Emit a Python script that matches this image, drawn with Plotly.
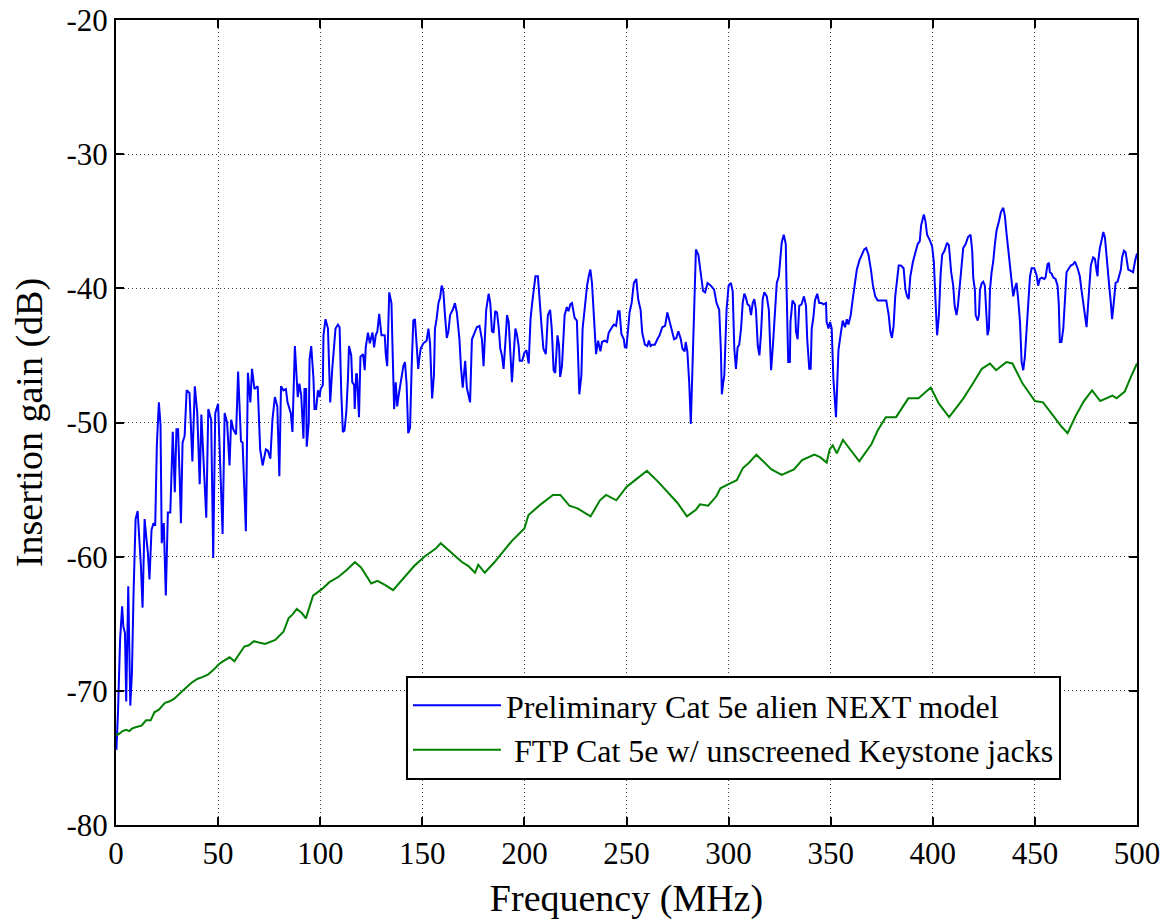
import plotly.graph_objects as go

# Blue: preliminary Cat 5e alien NEXT model
freq_model = [
    0.2, 1.0, 2.0, 3.0, 3.6, 4.4, 5.0, 6.0, 7.0, 7.8, 8.6, 9.6, 10.6, 11.4, 12.2, 13.0,
    14.0, 14.8, 15.6, 16.4, 17.4, 18.4, 19.2, 20.0, 21.0, 21.8, 22.4, 23.4, 24.4, 25.4,
    26.6, 27.8, 28.8, 29.6, 30.4, 31.2, 31.8, 32.6, 33.6, 34.6, 36.0, 37.4, 38.6, 39.8,
    41.0, 41.8, 43.4, 44.2, 45.2, 46.6, 47.6, 48.6, 50.0, 50.8, 52.2, 53.2, 54.4, 55.6,
    56.4, 57.4, 58.8, 59.8, 61.2, 62.0, 62.8, 63.6, 64.6, 65.8, 66.6, 67.8, 69.4, 70.6,
    71.8, 72.6, 73.4, 74.4, 75.6, 76.6, 77.8, 79.0, 80.0, 80.8, 82.0, 83.2, 84.0, 85.6,
    86.4, 87.6, 89.0, 89.8, 90.7, 91.8, 92.3, 93.1, 93.4, 94.4, 94.8, 95.6, 96.7, 97.2,
    98.0, 98.9, 99.7, 100.2, 101.3, 101.6, 102.6, 103.8, 104.9, 105.9, 106.6, 107.5,
    108.7, 109.5, 110.3, 111.1, 111.9, 112.8, 113.6, 114.1, 115.2, 115.7, 116.6, 116.9,
    117.6, 118.0, 119.0, 119.7, 121.0, 121.8, 122.3, 123.4, 124.3, 125.6, 126.4, 127.2,
    128.0, 128.9, 130.0, 131.6, 132.1, 132.8, 133.8, 134.9, 135.4, 136.2, 137.0, 137.7,
    138.4, 139.3, 140.7, 141.5, 142.3, 143.1, 144.0, 144.8, 145.6, 146.4, 147.2, 148.0,
    148.5, 149.2, 150.5, 152.1, 153.0, 153.8, 154.8, 155.7, 156.2, 157.0, 157.9, 158.7,
    159.5, 160.3, 161.1, 162.0, 162.8, 163.6, 164.9, 166.0, 166.9, 168.2, 168.9, 169.8,
    171.0, 171.8, 173.4, 174.3, 175.1, 176.7, 178.0, 179.2, 180.0, 180.8, 181.3, 182.5,
    183.3, 184.1, 184.9, 185.7, 186.6, 187.4, 188.2, 189.0, 189.8, 190.7, 191.5, 192.3,
    193.1, 193.9, 194.8, 195.6, 196.4, 197.2, 197.7, 198.9, 200.0, 201.0, 202.1, 203.0,
    203.8, 204.6, 205.4, 206.6, 207.4, 208.5, 209.3, 210.5, 211.5, 212.6, 213.4, 214.3,
    215.1, 216.2, 217.0, 217.5, 218.4, 219.7, 220.8, 221.6, 222.5, 223.3, 224.6, 225.7,
    226.9, 227.9, 228.5, 229.5, 230.7, 231.5, 232.3, 233.1, 233.9, 235.1, 236.1, 237.2,
    238.0, 239.3, 240.5, 241.3, 242.9, 243.8, 244.9, 245.9, 246.6, 247.5, 248.7, 249.2,
    250.0, 250.8, 251.5, 252.5, 253.6, 254.8, 255.7, 256.9, 257.7, 259.0, 260.2, 261.0,
    261.8, 262.6, 263.9, 265.1, 266.2, 267.5, 268.9, 270.0, 271.1, 272.5, 273.3, 274.4,
    275.4, 276.6, 277.4, 278.5, 279.0, 279.8, 280.7, 281.5, 282.3, 283.1, 284.0, 285.2,
    286.4, 287.5, 288.5, 289.7, 291.3, 292.9, 294.1, 295.4, 296.2, 296.7, 297.4, 297.9,
    299.0, 300.0, 301.1, 302.0, 302.8, 303.6, 304.4, 305.2, 306.1, 306.9, 307.7, 308.5,
    309.3, 310.2, 311.0, 311.8, 312.6, 313.4, 314.3, 315.1, 315.9, 316.7, 317.5, 318.7,
    319.7, 320.8, 321.6, 322.5, 323.6, 324.6, 326.0, 327.0, 328.0, 328.4, 329.2, 330.0,
    330.3, 331.3, 332.5, 333.0, 333.8, 334.6, 335.7, 336.9, 337.9, 338.5, 339.5, 340.2,
    340.7, 341.5, 342.3, 343.4, 344.4, 345.6, 346.4, 347.7, 348.0, 348.9, 349.7, 350.5,
    351.3, 352.6, 353.8, 354.9, 355.9, 357.0, 357.9, 358.7, 359.8, 360.8, 362.0, 362.8,
    364.1, 365.2, 366.4, 367.4, 368.5, 369.7, 370.7, 371.8, 373.0, 374.3, 375.9, 377.2,
    378.4, 379.2, 380.0, 380.8, 381.6, 382.5, 383.3, 384.4, 385.7, 386.6, 387.4, 388.2,
    389.0, 390.3, 391.5, 392.6, 393.6, 394.3, 395.6, 396.4, 397.2, 398.5, 399.7, 400.5,
    401.3, 402.1, 403.0, 403.8, 404.6, 405.7, 407.0, 407.9, 409.0, 410.0, 410.7, 411.6,
    412.3, 413.3, 414.1, 414.9, 416.1, 417.2, 418.5, 419.3, 419.8, 420.6, 421.0, 422.0,
    422.6, 423.1, 424.0, 424.7, 425.5, 426.3, 426.8, 427.5, 428.0, 428.8, 429.6, 430.4,
    431.2, 432.4, 433.4, 434.5, 435.3, 436.1, 436.9, 437.7, 438.6, 439.4, 440.2, 441.0,
    441.8, 442.7, 443.5, 444.3, 445.1, 445.9, 446.7, 447.6, 448.4, 449.7, 450.8, 451.6,
    452.4, 453.3, 454.6, 455.2, 456.2, 456.9, 457.3, 458.2, 459.0, 460.1, 461.1, 461.7,
    462.2, 463.0, 463.9, 464.7, 465.5, 466.3, 467.6, 468.8, 469.6, 470.9, 472.0, 472.8,
    473.7, 474.5, 475.3, 476.1, 476.9, 477.4, 478.5, 479.4, 480.2, 480.7, 481.0, 481.8,
    482.7, 483.5, 484.3, 484.7, 485.6, 486.2, 487.2, 487.8, 488.8, 489.5, 490.5, 491.1,
    492.1, 492.7, 493.6, 494.4, 495.0, 495.7, 497.0, 498.1, 499.0, 500.0,
]
gain_model = [
    -74.4, -71.5, -66.2, -63.7, -65.2, -65.7, -70.8, -62.2, -71.1, -68.7, -62.7, -57.2, -56.6, -58.7, -60.7, -63.8,
    -57.2, -58.5, -59.7, -61.7, -58.0, -57.5, -57.7, -51.7, -48.5, -50.2, -59.0, -57.5, -62.9, -56.7,
    -56.7, -50.7, -55.2, -50.5, -50.5, -54.2, -57.5, -51.5, -51.0, -47.6, -47.8, -52.9, -47.3, -49.3,
    -54.6, -49.4, -54.5, -57.1, -49.0, -49.8, -60.1, -49.3, -48.6, -52.5, -58.3, -49.3, -50.0, -53.2,
    -49.8, -50.5, -50.9, -46.2, -51.4, -51.5, -55.5, -58.1, -46.3, -48.5, -46.0, -47.5, -47.3, -52.0,
    -53.2, -52.7, -52.0, -52.1, -52.7, -49.8, -48.1, -48.8, -54.0, -47.3, -47.6, -47.5, -48.5, -49.3,
    -50.7, -44.3, -48.1, -47.1, -48.0, -51.2, -47.5, -47.5, -51.8, -50.0, -45.3, -44.3, -46.7, -49.0,
    -49.0, -47.6, -48.1, -47.5, -47.2, -43.5, -42.3, -43.0, -48.5, -46.0, -44.5, -43.0,
    -42.7, -42.9, -47.7, -50.7, -50.6, -49.2, -46.7, -44.3, -45.0, -47.0, -47.2, -49.0,
    -46.4, -46.4, -49.6, -45.1, -44.9, -46.1, -44.4, -43.3, -44.1, -43.3, -44.4, -43.5,
    -43.2, -41.9, -43.5, -43.5, -44.9, -45.8, -40.3, -41.1, -44.3, -49.0, -47.0, -48.8,
    -48.0, -47.0, -45.8, -45.5, -47.1, -50.8, -50.4, -45.8, -42.4, -42.3, -43.9, -46.0,
    -45.3, -44.5, -44.1, -43.9, -43.0, -44.1, -48.2, -46.5, -43.0, -42.3, -41.1, -40.7,
    -39.8, -40.2, -42.0, -43.7, -43.2, -42.0, -41.6, -41.1, -41.8, -43.8, -45.8, -47.4,
    -45.4, -47.4, -48.5, -43.8, -43.5, -42.9, -42.8, -43.8, -45.8, -43.0, -41.6, -40.4,
    -41.1, -43.2, -43.3, -41.7, -41.8, -42.9, -44.5, -45.0, -46.0, -44.0, -42.0, -42.5,
    -45.3, -47.0, -44.8, -43.0, -43.5, -44.3, -45.4, -45.4, -44.8, -44.6, -45.6, -42.3,
    -41.1, -40.1, -39.1, -39.1, -41.0, -43.0, -44.5, -44.9, -42.0, -41.6, -43.0, -46.1,
    -46.3, -43.5, -44.3, -46.6, -45.8, -42.0, -41.4, -41.7, -41.2, -41.1, -42.2, -42.4,
    -47.9, -46.5, -43.0, -41.3, -39.8, -39.1, -38.6, -39.6, -42.0, -44.9, -43.9, -44.7,
    -44.0, -43.9, -44.0, -43.3, -42.9, -42.7, -42.8, -41.7, -41.7, -43.4, -43.8, -44.4,
    -44.4, -42.8, -41.8, -41.1, -39.6, -39.3, -40.8, -41.6, -43.3, -44.2, -44.3, -43.9,
    -44.3, -44.2, -44.2, -43.8, -43.5, -42.9, -42.8, -41.8, -42.4, -43.3, -43.8, -43.7,
    -43.2, -43.8, -44.5, -44.7, -44.0, -44.7, -47.0, -50.1, -45.8, -40.8, -37.1, -37.5,
    -39.1, -40.2, -40.3, -39.6, -39.8, -40.1, -41.1, -41.6, -44.5, -47.9, -47.0, -46.5,
    -41.6, -39.8, -39.6, -40.2, -44.5, -46.0, -44.4, -44.2, -43.0, -41.1, -40.4, -40.7,
    -41.2, -41.3, -42.0, -41.1, -40.8, -41.6, -44.3, -45.0, -43.3, -40.8, -40.3, -40.6,
    -41.6, -46.1, -44.5, -42.3, -39.6, -39.1, -36.6, -36.0, -36.7, -40.1, -45.5, -45.5,
    -42.5, -40.9, -41.2, -43.2, -43.8, -41.3, -41.2, -40.6, -41.3, -43.8, -46.0, -46.0,
    -43.0, -42.2, -40.9, -40.4, -41.1, -41.1, -41.2, -41.1, -42.5, -43.0, -42.5, -43.0,
    -46.7, -49.6, -44.6, -43.4, -42.4, -42.9, -42.3, -42.7, -42.0, -40.8, -39.2, -38.6,
    -37.9, -37.5, -37.1, -37.0, -37.5, -38.6, -39.8, -40.6, -40.9, -40.9, -40.9, -40.9,
    -42.0, -43.2, -43.7, -42.8, -40.6, -39.5, -38.3, -38.3, -38.5, -40.1, -40.6, -40.8,
    -39.1, -38.0, -37.4, -36.7, -36.5, -35.3, -34.5, -35.0, -36.0, -36.4, -36.9, -38.0,
    -40.8, -43.5, -42.0, -39.0, -37.5, -37.2, -36.6, -36.8, -38.8, -39.8, -41.3, -42.0,
    -41.3, -39.8, -38.3, -37.0, -36.7, -36.2, -36.0, -37.2, -39.2, -40.1, -42.0, -42.4,
    -42.0, -40.1, -39.6, -39.5, -39.8, -42.0, -43.5, -43.0, -40.1, -38.8, -38.0, -36.7,
    -35.7, -35.0, -34.3, -34.0, -34.6, -35.9, -37.0, -38.1, -39.8, -40.6, -40.0, -39.6,
    -40.8, -42.5, -45.5, -46.1, -45.1, -43.3, -41.1, -39.1, -38.5, -38.5, -39.0, -39.8,
    -39.3, -39.2, -39.3, -39.2, -38.2, -38.1, -38.8, -38.9, -39.2, -39.3, -39.8, -41.2,
    -44.0, -44.0, -43.0, -40.6, -38.8, -38.6, -38.3, -38.2, -38.0, -38.5, -39.1, -40.1,
    -41.1, -42.0, -42.9, -41.1, -39.6, -38.3, -37.7, -37.8, -38.7, -39.1, -38.0, -37.0,
    -36.4, -35.8, -36.2, -37.0, -38.7, -39.5, -41.1, -42.3, -40.8, -39.6, -39.5, -39.2,
    -38.6, -37.7, -37.2, -37.3, -38.0, -38.6, -38.7, -38.8, -38.0, -37.4,
]

# Green: FTP Cat 5e with unscreened Keystone jacks
freq_ftp = [
    0.0, 1.6, 3.2, 5.0, 6.5, 8.0, 10.0, 12.5, 14.7, 17.0, 18.8, 21.0, 24.0, 26.0, 28.4,
    31.0, 34.0, 37.0, 40.0, 42.0, 45.0, 48.0, 50.5, 52.4, 55.6, 58.0, 60.0, 62.8, 65.0,
    67.6, 70.0, 73.0, 78.0, 82.0, 84.5, 86.5, 88.5, 91.0, 93.0, 96.5, 101.0, 104.5, 109.0,
    113.0, 117.0, 120.0, 122.5, 125.0, 128.0, 131.7, 135.7, 140.5, 143.0, 146.0, 151.0,
    156.6, 159.0, 162.0, 166.0, 169.4, 172.6, 175.8, 177.4, 180.6, 185.4, 188.0, 194.0,
    200.0, 202.0, 208.0, 214.0, 217.6, 222.0, 226.0, 232.4, 237.0, 240.0, 245.0, 250.0,
    255.0, 260.0, 266.0, 270.0, 275.0, 279.6, 284.0, 286.0, 290.0, 294.0, 296.0, 300.0,
    304.0, 307.0, 310.0, 313.6, 317.0, 321.0, 326.0, 332.0, 336.0, 342.0, 345.0, 348.0,
    349.5, 351.0, 353.0, 356.0, 359.0, 364.0, 370.0, 373.0, 377.0, 382.0, 388.0, 393.0,
    399.0, 403.0, 408.0, 415.0, 420.0, 424.0, 428.0, 431.0, 436.0, 439.0, 444.0, 450.0,
    454.0, 460.0, 463.0, 466.0, 470.0, 474.0, 478.0, 482.0, 488.0, 490.0, 494.0, 497.0,
    500.0,
]
gain_ftp = [
    -73.3, -73.2, -73.0, -72.9, -73.0, -72.8, -72.7, -72.6, -72.2, -72.2, -71.6, -71.4, -70.9, -70.8, -70.6,
    -70.2, -69.8, -69.4, -69.1, -69.0, -68.8, -68.4, -68.0, -67.8, -67.5, -67.8, -67.3, -66.7, -66.6,
    -66.3, -66.4, -66.5, -66.2, -65.6, -64.6, -64.3, -63.9, -64.2, -64.6, -62.9, -62.4, -61.9, -61.5,
    -61.0, -60.4, -60.8, -61.4, -62.0, -61.8, -62.1, -62.5, -61.7, -61.2, -60.7, -60.0,
    -59.4, -59.0, -59.4, -60.0, -60.4, -60.7, -61.2, -60.6, -61.2, -60.4, -59.9, -58.8,
    -57.9, -56.9, -56.1, -55.4, -55.4, -56.2, -56.4, -57.0, -55.8, -55.4, -55.8, -54.8,
    -54.2, -53.6, -54.5, -55.2, -56.0, -57.0, -56.5, -56.1, -56.2, -55.5, -54.9, -54.6,
    -54.3, -53.4, -53.0, -52.4, -52.9, -53.5, -53.9, -53.5, -52.8, -52.4, -52.6, -53.0,
    -52.0, -51.7, -52.3, -51.3, -51.9, -52.9, -51.6, -50.6, -49.6, -49.6, -48.2, -48.2,
    -47.4, -48.6, -49.6, -48.2, -47.0, -46.0, -45.6, -46.1, -45.5, -45.6, -47.1, -48.4,
    -48.5, -49.7, -50.3, -50.8, -49.5, -48.4, -47.6, -48.4, -48.0, -48.2, -47.7, -46.6,
    -45.6,
]

freq_ticks = list(range(0, 501, 50))
gain_ticks = list(range(-80, -19, 10))
gain_tick_text = [str(v) for v in gain_ticks]  # plain hyphen, like the original

SERIF = "Liberation Serif, Times New Roman, serif"

fig = go.Figure()

fig.add_trace(
    go.Scatter(
        x=freq_model,
        y=gain_model,
        mode="lines",
        name="Preliminary Cat 5e alien NEXT model",
        line=dict(color="#0000ff", width=2),
    )
)

fig.add_trace(
    go.Scatter(
        x=freq_ftp,
        y=gain_ftp,
        mode="lines",
        name=" FTP Cat 5e w/ unscreened Keystone jacks",
        line=dict(color="#008000", width=2),
    )
)

axis_common = dict(
    automargin=False,
    showline=True,
    linecolor="black",
    linewidth=2,
    mirror="allticks",
    ticks="inside",
    ticklen=8,
    tickwidth=1.5,
    tickcolor="black",
    showgrid=True,
    gridcolor="#444444",
    griddash="1px,3px",
    gridwidth=1,
    zeroline=False,
    tickfont=dict(family=SERIF, size=31, color="black"),
)

fig.update_xaxes(
    range=[0, 500],
    tickvals=freq_ticks,
    ticklabelstandoff=0,
    title=dict(text="Frequency (MHz)", font=dict(family=SERIF, size=38, color="black"), standoff=14),
    **axis_common,
)
fig.update_yaxes(
    range=[-80, -20],
    tickvals=gain_ticks,
    ticktext=gain_tick_text,
    ticklabelstandoff=0,
    title=dict(text="Insertion gain (dB)", font=dict(family=SERIF, size=38, color="black"), standoff=12),
    **axis_common,
)

# plot area sits at x 116-1137, y 20-825 of the page, as in the reference
fig.update_layout(
    width=1167,
    height=922,
    margin=dict(l=116, r=30, t=20, b=97),
    paper_bgcolor="white",
    plot_bgcolor="white",
    showlegend=True,
    legend=dict(
        x=0.284,
        y=0.056,
        xanchor="left",
        yanchor="bottom",
        bgcolor="white",
        bordercolor="black",
        borderwidth=2,
        font=dict(family=SERIF, size=32, color="black"),
        itemwidth=88,
        tracegroupgap=0,
    ),
)

# drop the browser's default 8px body margin so the figure fills the window
fig.write_html(
    "out.html",
    config={"displayModeBar": False},
    post_script="document.body.style.margin = '0';",
)
